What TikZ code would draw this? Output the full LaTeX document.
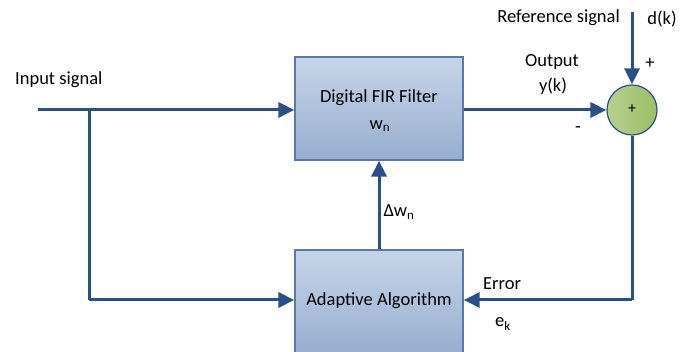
\documentclass[tikz,border=0pt]{standalone}
\usepackage{fontspec}
\setmainfont{Carlito}
\usetikzlibrary{arrows.meta,calc}
\definecolor{lineblue}{HTML}{2B4F86}
\definecolor{boxtop}{HTML}{C7D5E8}
\definecolor{boxbot}{HTML}{98AED0}
\definecolor{boxedge}{HTML}{5A78A8}
\definecolor{gtop}{HTML}{B7D08E}
\definecolor{gbot}{HTML}{9DBE66}
\tikzset{
  blockbox/.style={draw=boxedge, line width=1.2pt, top color=boxtop, bottom color=boxbot, minimum width=168pt, minimum height=103pt, inner sep=0pt},
  sumnode/.style={circle, draw=lineblue, line width=1.2pt, left color=gtop, right color=gbot, minimum size=50pt, inner sep=0pt},
  sig/.style={draw=lineblue, line width=3pt},
  arr/.style={sig, -{Triangle[length=16pt,width=15pt]}},
  lbl/.style={font=\fontsize{18.5}{21}\selectfont, text=black, inner sep=0pt},
}
\begin{document}
\begin{tikzpicture}[x=1pt,y=-1pt]
\useasboundingbox (0,0) rectangle (690,352);
\node[blockbox] (fir) at (379,108.5) {};
\node[lbl, align=center] (firtxt) at (379,98) {Digital FIR Filter};
\node[lbl] (wn) at (380,126) {w\textsubscript{n}};
\node[blockbox, minimum height=104pt] (adapt) at (379,302) {};
\node[lbl] (adtxt) at (379,301) {Adaptive Algorithm};
\node[sumnode] (sum) at (632,110) {};
\node[font=\fontsize{16}{18}\selectfont, inner sep=0pt] (plus) at (632,109) {+};

\coordinate (in) at (38,110);
\coordinate (br) at (89,110);
\coordinate (brd) at (89,300);
\coordinate (reftop) at (632,12);
\coordinate (errc) at (632,300);

\draw[arr] (in) -- (fir.west |- in);
\draw[sig] (br) -- (brd);
\draw[arr] (brd) -- (adapt.west |- brd);
\draw[arr] (fir.east |- sum) -- (sum.west);
\draw[arr] (reftop) -- (sum.north);
\draw[sig] (sum.south) -- (errc);
\draw[arr] (errc) -- (adapt.east |- errc);
\draw[arr] (adapt.north) -- (fir.south);

\node[lbl, anchor=west] (inlbl) at (15,80) {Input signal};
\node[lbl, anchor=east] (reflbl) at (620,18) {Reference signal};
\node[lbl] (dk) at (662,19) {d(k)};
\node[lbl] (outlbl) at (552,62) {Output};
\node[lbl] (yk) at (553,86) {y(k)};
\node[lbl] (pl) at (650,63) {+};
\node[lbl] (mi) at (578,130) {-};
\node[lbl] (dw) at (399,212) {Δw\textsubscript{n}};
\node[lbl, anchor=west] (err) at (483,284) {Error};
\node[lbl, anchor=west] (ek) at (495,324) {e\textsubscript{k}};
\end{tikzpicture}
\end{document}
